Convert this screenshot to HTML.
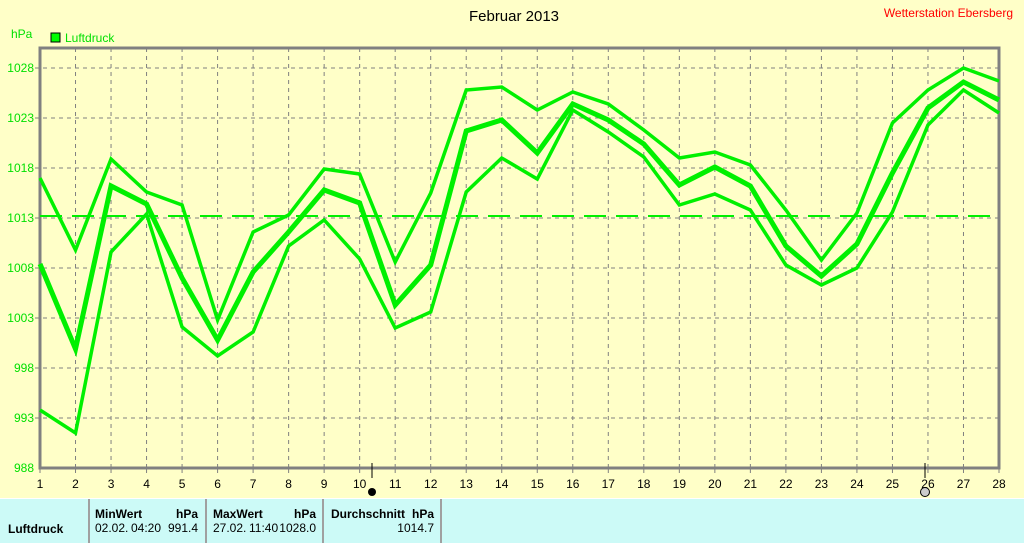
<!DOCTYPE html>
<html><head><meta charset="utf-8"><style>
html,body{margin:0;padding:0;background:#ffffc8;width:1024px;height:543px;overflow:hidden;font-family:"Liberation Sans",sans-serif}
</style></head><body>
<svg width="1024" height="543" xmlns="http://www.w3.org/2000/svg" font-family="Liberation Sans, sans-serif">
<rect width="1024" height="543" fill="#ffffc8"/>
<text x="514" y="21" font-size="15" text-anchor="middle" fill="#000">Februar 2013</text>
<text x="1013" y="17" font-size="12" text-anchor="end" fill="#ff0000">Wetterstation Ebersberg</text>
<text x="11" y="38" font-size="12" fill="#00e000">hPa</text>
<rect x="51" y="33" width="9" height="9" fill="#00ff00" stroke="#000" stroke-width="1"/>
<text x="65" y="42" font-size="12" fill="#00e000">Luftdruck</text>
<g stroke="#808080" stroke-width="1" stroke-dasharray="4,4" id="grid"></g>
<g id="axes"></g>
<g id="lines" fill="none" stroke="#00f000" stroke-linejoin="miter"></g>
<rect x="0" y="498" width="1024" height="45" fill="#ccfaf7"/>
<g stroke="#a0a0a0" stroke-width="2"><line x1="89" y1="498" x2="89" y2="543"/><line x1="206" y1="498" x2="206" y2="543"/><line x1="323" y1="498" x2="323" y2="543"/><line x1="441" y1="498" x2="441" y2="543"/></g>
<line x1="0" y1="498.5" x2="1024" y2="498.5" stroke="#fff"/>
<g font-size="12" font-weight="bold" fill="#000">
<text x="8" y="533">Luftdruck</text>
<text x="95" y="518">MinWert</text><text x="198" y="518" text-anchor="end">hPa</text>
<text x="213" y="518">MaxWert</text><text x="316" y="518" text-anchor="end">hPa</text>
<text x="331" y="518">Durchschnitt</text><text x="434" y="518" text-anchor="end">hPa</text>
</g>
<g font-size="12" fill="#000">
<text x="95" y="532">02.02.</text><text x="131" y="532">04:20</text><text x="198" y="532" text-anchor="end">991.4</text>
<text x="213" y="532">27.02.</text><text x="249" y="532">11:40</text><text x="316" y="532" text-anchor="end">1028.0</text>
<text x="434" y="532" text-anchor="end">1014.7</text>
</g>
</svg>
<script>
(function(){
var ns="http://www.w3.org/2000/svg";
var X=function(d){return 40+(d-1)*959/27;};
function el(p,t,a,txt){var e=document.createElementNS(ns,t);for(var k in a)e.setAttribute(k,a[k]);if(txt!==undefined)e.textContent=txt;p.appendChild(e);return e;}
var g=document.getElementById('grid'),ax=document.getElementById('axes'),L=document.getElementById('lines');
for(var i=0;i<8;i++){var y=68+i*50;el(g,'line',{x1:35,y1:y,x2:999,y2:y});el(ax,'text',{x:34,y:y+4,'font-size':12,'text-anchor':'end',fill:'#00e000'},1028-5*i);}
el(ax,'text',{x:34,y:472,'font-size':12,'text-anchor':'end',fill:'#00e000'},988);
for(var d=2;d<=27;d++){el(g,'line',{x1:X(d),y1:48,x2:X(d),y2:468});}
for(d=1;d<=28;d++){el(ax,'line',{x1:X(d),y1:468,x2:X(d),y2:473,stroke:'#808080'});el(ax,'text',{x:X(d),y:488,'font-size':12,'text-anchor':'middle',fill:'#000'},d);}
el(ax,'path',{d:'M40,48V468H999V48Z',fill:'none',stroke:'#808080','stroke-width':3});
el(ax,'line',{x1:372,y1:463,x2:372,y2:478,stroke:'#000'});
el(ax,'circle',{cx:372,cy:492,r:4,fill:'#000'});
el(ax,'line',{x1:925,y1:463,x2:925,y2:478,stroke:'#000'});
el(ax,'circle',{cx:925,cy:492,r:4.5,fill:'#ccc',stroke:'#000'});
el(L,'line',{x1:40,y1:216,x2:999,y2:216,'stroke-dasharray':'22,10','stroke-width':2});
var hi=[178,250,159,192,205,320,232,215,169,174,262,193,90,87,110,92,104,130,158,152,165,210,260,213,123,90,68,81];
var mid=[264,349,186,204,278,340,272,232,190,203,305,265,131,120,153,104,120,144,185,167,186,246,276,244,173,108,82,100];
var lo=[410,433,252,214,327,356,332,246,220,259,328,312,192,158,179,110,132,157,205,194,210,265,285,268,212,125,90,113];
[[hi,3.5],[mid,5],[lo,3.5]].forEach(function(p){el(L,'polyline',{points:p[0].map(function(y,i){return X(i+1)+','+y;}).join(' '),'stroke-width':p[1]});});
})();
</script>
</body></html>
